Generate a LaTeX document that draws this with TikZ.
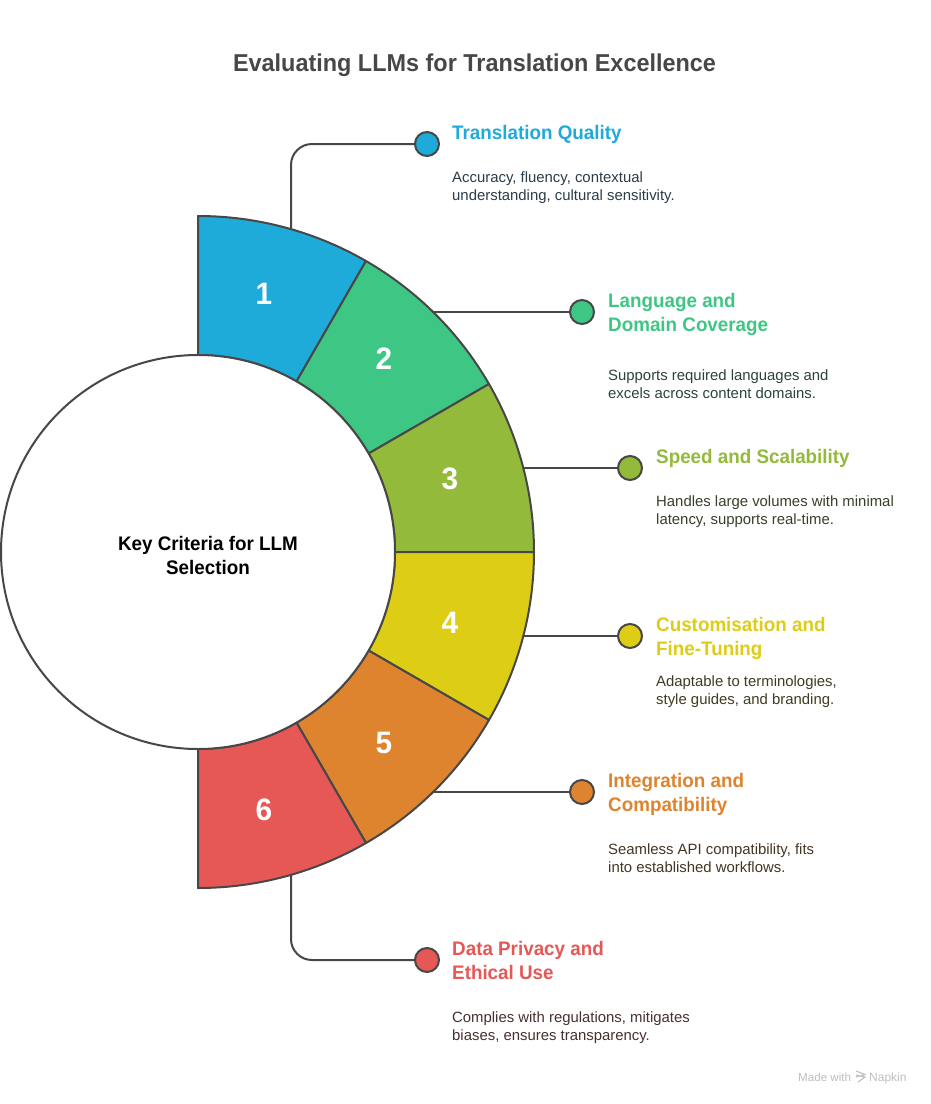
\documentclass[tikz,border=0pt]{standalone}
\usepackage{fontspec}
\setmainfont[BoldFeatures={FakeStretch=0.96}]{Liberation Sans}
\usetikzlibrary{calc}
\definecolor{cBlue}{HTML}{1EABDA}
\definecolor{cGreen}{HTML}{3EC784}
\definecolor{cOlive}{HTML}{93BA3A}
\definecolor{cYellow}{HTML}{DECD15}
\definecolor{cOrange}{HTML}{DF842E}
\definecolor{cRed}{HTML}{E65856}
\definecolor{cLine}{HTML}{474747}
\definecolor{bBlue}{HTML}{2B3D48}
\definecolor{bGreen}{HTML}{2B4438}
\definecolor{bOlive}{HTML}{37402A}
\definecolor{bYellow}{HTML}{403C20}
\definecolor{bOrange}{HTML}{453624}
\definecolor{bRed}{HTML}{483030}
\tikzset{
  x=1pt,y=-1pt,
  seg/.style={draw=cLine,line width=2pt,line join=round},
  conn/.style={draw=cLine,line width=2pt,rounded corners=21pt},
  dot/.style={circle,draw=cLine,line width=2pt,minimum size=24pt,inner sep=0pt},
  num/.style={text=white,font=\fontsize{31}{31}\selectfont\bfseries,inner sep=0pt},
  head/.style={anchor=base west,inner sep=0pt,align=left,font=\fontsize{19.6}{24}\selectfont\bfseries},
  body/.style={anchor=base west,inner sep=0pt,align=left,font=\fontsize{14.9}{18}\selectfont},
  mark text/.style={anchor=base west,inner sep=0pt,text=black!25},
}
\newcommand{\ringseg}[3]{%
  \path[seg,fill=#3] ($(198,552)+({336*cos(#1)},{-336*sin(#1)})$)
    arc[start angle=#1,end angle=#2,radius=336pt]
    -- ($(198,552)+({197*cos(#2)},{-197*sin(#2)})$)
    arc[start angle=#2,end angle=#1,radius=197pt] -- cycle;}
\begin{document}
\begin{tikzpicture}
\useasboundingbox (0,0) rectangle (930,1104);
\fill[white] (0,0) rectangle (930,1104);
\node[inner sep=0pt,text=cLine,font=\fontsize{24.4}{30}\selectfont\bfseries] (title) at (474.5,65) {Evaluating LLMs for Translation Excellence};
% dots
\node[dot,fill=cBlue] (d1) at (427,144) {};
\node[dot,fill=cGreen] (d2) at (582,312) {};
\node[dot,fill=cOlive] (d3) at (630,468) {};
\node[dot,fill=cYellow] (d4) at (630,636) {};
\node[dot,fill=cOrange] (d5) at (582,792) {};
\node[dot,fill=cRed] (d6) at (427,960) {};
% connector ends under the ring
\coordinate (e1) at (291,240);
\coordinate (e2) at (420,312);
\coordinate (e3) at (510,468);
\coordinate (e4) at (510,636);
\coordinate (e5) at (420,792);
\coordinate (e6) at (291,864);
\draw[conn] (e1) -- (e1 |- d1) -- (d1);
\draw[conn] (e2) -- (d2);
\draw[conn] (e3) -- (d3);
\draw[conn] (e4) -- (d4);
\draw[conn] (e5) -- (d5);
\draw[conn] (e6) -- (e6 |- d6) -- (d6);
% ring
\ringseg{90}{60}{cBlue}
\ringseg{60}{30}{cGreen}
\ringseg{30}{0}{cOlive}
\ringseg{0}{-30}{cYellow}
\ringseg{-30}{-60}{cOrange}
\ringseg{-60}{-90}{cRed}
\node[circle,draw=cLine,fill=white,line width=2pt,minimum size=394pt,inner sep=0pt] (hub) at (198,552) {};
\node[inner sep=0pt,align=center,text=black,font=\fontsize{19.6}{24}\selectfont\bfseries] (hubtext) at (208,555.5) {Key Criteria for LLM\\Selection};
% numbers
\node[num] (n1) at (264,293.5) {1};
\node[num] (n2) at (384,359) {2};
\node[num] (n3) at (450,479) {3};
\node[num] (n4) at (450,623) {4};
\node[num] (n5) at (384,743) {5};
\node[num] (n6) at (264,810) {6};
% labels
\node[head,text=cBlue] (h1) at (452,139) {Translation Quality};
\node[body,text=bBlue] (b1) at (452,200) {Accuracy, fluency, contextual\\understanding, cultural sensitivity.};
\node[head,text=cGreen] (h2) at (608,331) {Language and\\Domain Coverage};
\node[body,text=bGreen] (b2) at (608,398) {Supports required languages and\\excels across content domains.};
\node[head,text=cOlive] (h3) at (656,463) {Speed and Scalability};
\node[body,text=bOlive] (b3) at (656,524) {Handles large volumes with minimal\\latency, supports real-time.};
\node[head,text=cYellow] (h4) at (656,655) {Customisation and\\Fine-Tuning};
\node[body,text=bYellow] (b4) at (656,704) {Adaptable to terminologies,\\style guides, and branding.};
\node[head,text=cOrange] (h5) at (608,811) {Integration and\\Compatibility};
\node[body,text=bOrange] (b5) at (608,872) {Seamless API compatibility, fits\\into established workflows.};
\node[head,text=cRed] (h6) at (452,979) {Data Privacy and\\Ethical Use};
\node[body,text=bRed] (b6) at (452,1040) {Complies with regulations, mitigates\\biases, ensures transparency.};
% watermark
\node[mark text,font=\fontsize{11.6}{13}\selectfont] (m1) at (798,1081) {Made with};
\node[mark text,font=\fontsize{12}{13}\selectfont] (m2) at (869,1081) {Napkin};
\draw[black!25,line width=1.1pt] (856,1071) -- (865,1074.5) -- (856,1077) (856,1075) -- (865,1077) -- (858,1082);
\end{tikzpicture}
\end{document}
